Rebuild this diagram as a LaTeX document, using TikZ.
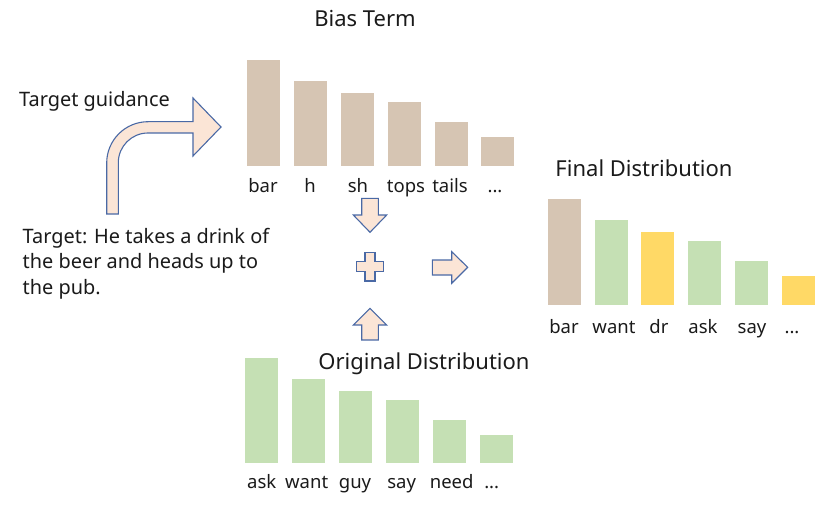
\documentclass[tikz,border=0pt]{standalone}
\usepackage{fontspec}
\setmainfont{Noto Sans}
\definecolor{tanbar}{HTML}{D6C5B3}
\definecolor{greenbar}{HTML}{C5E0B4}
\definecolor{yellowbar}{HTML}{FFD966}
\definecolor{arrowfill}{HTML}{FBE5D6}
\definecolor{arrowline}{HTML}{4A69A5}
\definecolor{textcol}{HTML}{1A1A1A}
\begin{document}
\begin{tikzpicture}[x=1pt,y=-1pt,
  bar/.style={fill=#1,draw=none,inner sep=0pt,minimum width=33pt,anchor=south west},
  lbl/.style={font=\fontsize{18.5}{22}\selectfont,text=textcol,inner sep=0pt,anchor=base},
  ttl/.style={font=\fontsize{22}{26}\selectfont,text=textcol,inner sep=0pt,anchor=base},
  txt/.style={font=\fontsize{19.9}{23}\selectfont,text=textcol,inner sep=0pt,anchor=base west},
  blockarrow/.style={fill=arrowfill,draw=arrowline,line width=1.1pt,line join=miter}]
\useasboundingbox (0,0) rectangle (830,508);
% Bias term bars
\foreach \i/\x/\t in {1/246.7/60.7,2/293.3/81.7,3/340.7/93.3,4/387.7/102.3,5/434.3/122,6/481/137.3}
  \node[bar=tanbar,minimum height={166-\t}] (b\i) at (\x,166) {};
\node[ttl] (biastitle) at (365,26.7) {Bias Term};
\node[lbl] (bl1) at (263,192) {bar};
\node[lbl] (bl2) at (310,192) {h};
\node[lbl] (bl3) at (358,192) {sh};
\node[lbl] (bl4) at (406,192) {tops};
\node[lbl] (bl5) at (450,192) {tails};
\node[lbl] (bl6) at (495,192) {...};
% Final distribution bars
\foreach \i/\x/\t/\c in {1/547.3/199/tanbar,2/594.3/220/greenbar,3/641/232/yellowbar,4/688/241/greenbar,5/735/261/greenbar,6/782/276/yellowbar}
  \node[bar=\c,minimum height={305-\t}] (f\i) at (\x,305) {};
\node[ttl] (finaltitle) at (644,176) {Final Distribution};
\node[lbl] (fl1) at (564,333) {bar};
\node[lbl] (fl2) at (614,333) {want};
\node[lbl] (fl3) at (659,333) {dr};
\node[lbl] (fl4) at (703,333) {ask};
\node[lbl] (fl5) at (752,333) {say};
\node[lbl] (fl6) at (792,333) {...};
% Original distribution bars
\foreach \i/\x/\t in {1/245/358.3,2/291.7/379,3/338.7/391,4/385.3/400,5/432.3/420,6/479.3/435}
  \node[bar=greenbar,minimum height={463.3-\t}] (o\i) at (\x,463.3) {};
\node[ttl] (origtitle) at (424,369.5) {Original Distribution};
\node[lbl] (ol1) at (261.7,488.3) {ask};
\node[lbl] (ol2) at (306.7,488.3) {want};
\node[lbl] (ol3) at (355,488.3) {guy};
\node[lbl] (ol4) at (401.7,488.3) {say};
\node[lbl] (ol5) at (451.7,488.3) {need};
\node[lbl] (ol6) at (491.7,488.3) {...};
% texts
\node[txt] (guid) at (19,106.7) {Target guidance};
\node[txt] (tg1) at (22.5,243.3) {Target: He takes a drink of};
\node[txt] (tg2) at (22.5,268.3) {the beer and heads up to};
\node[txt] (tg3) at (22.5,294.3) {the pub.};
% curved arrow
\draw[blockarrow] (106.7,214) -- (106.7,163) arc[start angle=180,end angle=270,radius=41.3]
  -- (193,121.7) -- (193,98) -- (221,127) -- (193,156) -- (193,133) -- (148,133)
  arc[start angle=270,end angle=180,radius=29.7] -- (118.3,214) -- cycle;
% down arrow
\draw[blockarrow] (361.7,198.3) -- (378.3,198.3) -- (378.3,215) -- (386.7,215) -- (370,232.3)
  -- (353.3,215) -- (361.7,215) -- cycle;
% plus
\draw[blockarrow] (365,252.3) -- (375,252.3) -- (375,261.7) -- (383.3,261.7) -- (383.3,271.7)
  -- (375,271.7) -- (375,281) -- (365,281) -- (365,271.7) -- (356.7,271.7) -- (356.7,261.7)
  -- (365,261.7) -- cycle;
% right arrow
\draw[blockarrow] (432.3,260) -- (451.7,260) -- (451.7,251.7) -- (467.7,267.3) -- (451.7,283.3)
  -- (451.7,275) -- (432.3,275) -- cycle;
% up arrow
\draw[blockarrow] (361.7,340) -- (361.7,325) -- (353.3,325) -- (370,308.3) -- (386.7,325)
  -- (378.3,325) -- (378.3,340) -- cycle;
\end{tikzpicture}
\end{document}
